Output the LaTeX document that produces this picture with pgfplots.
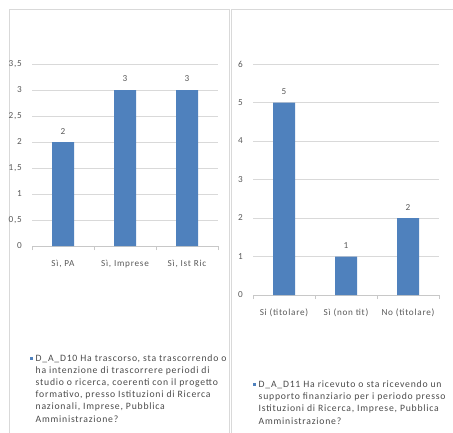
\documentclass[border=0pt]{standalone}
\usepackage{pgfplots}
\pgfplotsset{compat=1.18}
\usepackage{fontspec}
\setmainfont{Carlito}[LetterSpace=8]
\definecolor{barblue}{HTML}{4F81BD}
\definecolor{gridc}{HTML}{D9D9D9}
\definecolor{axisc}{HTML}{C8C8C8}
\definecolor{txt}{HTML}{595959}
\definecolor{legtxt}{HTML}{4A4A4A}
\definecolor{framec}{HTML}{D9D9D9}
\pgfplotsset{
  mybar/.style={
    scale only axis,
    anchor=south west,
    ybar, bar width=22bp,
    xmin=-0.5, xmax=2.5,
    xtick={0,1,2},
    minor xtick={-0.5,0.5,1.5,2.5},
    axis x line*=bottom, axis y line*=left,
    y axis line style={draw=none},
    x axis line style={draw=axisc, line width=0.8bp},
    major x tick style={draw=none},
    minor x tick style={draw=axisc, line width=0.8bp},
    xtick align=outside,
    minor tick length=4bp,
    ytick style={draw=none},
    ymajorgrids, grid style={draw=gridc, line width=0.8bp},
    tick label style={font=\fontsize{9.2bp}{11bp}\selectfont, text=txt},
    /pgf/number format/assume math mode=true,
    /pgf/number format/use comma,
    yticklabel style={anchor=east, inner sep=0pt, xshift=-10bp},
    xticklabel style={anchor=base, inner sep=0pt, yshift=-16bp},
    nodes near coords,
    every node near coord/.append style={font=\fontsize{9.2bp}{11bp}\selectfont, text=txt, anchor=base, inner sep=0pt, yshift=8bp},
    clip=false,
  }
}
\begin{document}
\begin{tikzpicture}
\begin{scope}[x=1bp,y=1bp]
\useasboundingbox (0,0) rectangle (453,432);
% panel frames
\draw[framec, line width=1bp] (9,-5) -- (9,422) -- (229,422) -- (229,-5);
\draw[framec, line width=1bp] (231.5,-5) -- (231.5,422) -- (460,422);
\end{scope}

% left chart
\begin{axis}[mybar, at={(32bp,186bp)}, width=186bp, height=182bp,
  ymin=0, ymax=3.5, ytick={0,0.5,1,1.5,2,2.5,3,3.5},
  xticklabels={{Sì, PA},{Sì, Imprese},{Sì, Ist Ric}}]
\addplot[fill=barblue, draw=none] coordinates {(0,2) (1,3) (2,3)};
\end{axis}

% right chart
\begin{axis}[mybar, at={(253bp,137bp)}, width=186bp, height=231bp,
  ymin=0, ymax=6, ytick={0,1,2,3,4,5,6},
  xticklabels={{Si (titolare)},{Sì (non tit)},{No (titolare)}}]
\addplot[fill=barblue, draw=none] coordinates {(0,5) (1,1) (2,2)};
\end{axis}

% legends
\begin{scope}[x=1bp,y=1bp,every node/.style={anchor=base west, inner sep=0pt, text=legtxt, font=\fontsize{9.7bp}{11bp}\selectfont}]
\fill[barblue] (29.5,72.5) rectangle (32.5,75.5);
\node at (35.5,71) {D\_A\_D10 Ha trascorso, sta trascorrendo o};
\node at (35.5,58.8) {ha intenzione di trascorrere periodi di};
\node at (35.5,46.6) {studio o ricerca, coerenti con il progetto};
\node at (35.5,34.4) {formativo, presso Istituzioni di Ricerca};
\node at (35.5,22.2) {nazionali, Imprese, Pubblica};
\node at (35.5,10) {Amministrazione?};
\fill[barblue] (252.5,46.5) rectangle (255.5,49.5);
\node at (258.5,45) {D\_A\_D11 Ha ricevuto o sta ricevendo un};
\node at (258.5,32.6) {supporto finanziario per i periodo presso};
\node at (258.5,20.2) {Istituzioni di Ricerca, Imprese, Pubblica};
\node at (258.5,7.8) {Amministrazione?};
\end{scope}
\end{tikzpicture}
\end{document}
